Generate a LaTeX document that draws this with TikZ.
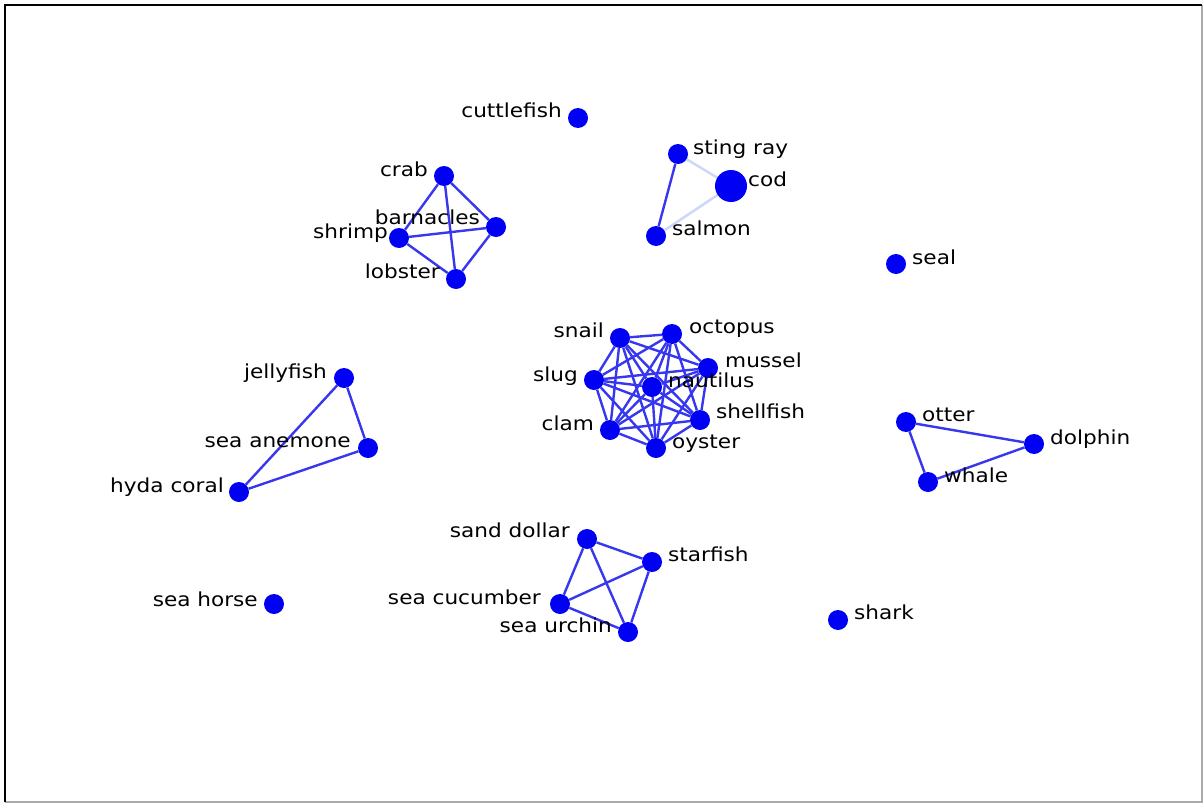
\documentclass[tikz,border=0pt]{standalone}
\usepackage{fontspec}
\setmainfont[FakeStretch=1.12]{DejaVu Sans}
\pgfdeclarelayer{background}
\pgfsetlayers{background,main}
\definecolor{nodeblue}{RGB}{0,0,245}
\definecolor{edgeblue}{RGB}{55,55,240}
\definecolor{faintblue}{RGB}{205,215,250}
\definecolor{framegray}{RGB}{170,170,170}
\begin{document}
\begin{tikzpicture}[x=1pt,y=-1pt,
  vtx/.style={circle,fill=nodeblue,inner sep=0pt,minimum size=20pt},
  bigvtx/.style={circle,fill=nodeblue,inner sep=0pt,minimum size=32pt},
  lblR/.style={anchor=mid west,inner sep=0pt,font=\fontsize{19.3}{21}\selectfont,text=black},
  lblL/.style={anchor=mid east,inner sep=0pt,font=\fontsize{19.3}{21}\selectfont,text=black},
  edge/.style={draw=edgeblue,line width=2.4pt},
  faint/.style={draw=faintblue,line width=2.4pt}]
\useasboundingbox (0,0) rectangle (1203,803);

% nodes
\node[vtx] (cuttlefish) at (578,118) {};
\node[vtx] (stingray) at (678,154) {};
\node[bigvtx] (cod) at (731,186) {};
\node[vtx] (salmon) at (656,236) {};
\node[vtx] (seal) at (896,264) {};
\node[vtx] (crab) at (444,176) {};
\node[vtx] (barnacles) at (496,227) {};
\node[vtx] (shrimp) at (399,238) {};
\node[vtx] (lobster) at (456,279) {};
\node[vtx] (snail) at (620,338) {};
\node[vtx] (octopus) at (672,334) {};
\node[vtx] (mussel) at (708,368) {};
\node[vtx] (slug) at (594,380) {};
\node[vtx] (nautilus) at (652,387) {};
\node[vtx] (shellfish) at (700,420) {};
\node[vtx] (clam) at (610,430) {};
\node[vtx] (oyster) at (656,448) {};
\node[vtx] (jellyfish) at (344,378) {};
\node[vtx] (seaanemone) at (368,448) {};
\node[vtx] (hydacoral) at (239,492) {};
\node[vtx] (otter) at (906,422) {};
\node[vtx] (dolphin) at (1034,444) {};
\node[vtx] (whale) at (928,482) {};
\node[vtx] (sanddollar) at (587,539) {};
\node[vtx] (starfish) at (652,562) {};
\node[vtx] (seacucumber) at (560,604) {};
\node[vtx] (seaurchin) at (628,632) {};
\node[vtx] (seahorse) at (274,604) {};
\node[vtx] (shark) at (838,620) {};

% background, frame and edges
\begin{pgfonlayer}{background}
\fill[white] (0,0) rectangle (1203,803);
\draw[framegray,line width=2pt] (5,801.5) -- (1201.5,801.5) -- (1201.5,5);
\draw[black,line width=2pt] (5,801.5) -- (5,5) -- (1201.5,5);
\draw[faint] (stingray) -- (cod);
\draw[faint] (cod) -- (salmon);
\draw[edge] (stingray) -- (salmon);
\foreach \a/\rest in {crab/{barnacles,shrimp,lobster},barnacles/{shrimp,lobster},shrimp/{lobster}}
  \foreach \b in \rest \draw[edge] (\a) -- (\b);
\foreach \a/\rest in {snail/{octopus,mussel,slug,nautilus,shellfish,clam,oyster},
  octopus/{mussel,slug,nautilus,shellfish,clam,oyster},
  mussel/{slug,nautilus,shellfish,clam,oyster},
  slug/{nautilus,shellfish,clam,oyster},
  nautilus/{shellfish,clam,oyster},
  shellfish/{clam,oyster},
  clam/{oyster}}
  \foreach \b in \rest \draw[edge] (\a) -- (\b);
\draw[edge] (jellyfish) -- (seaanemone) -- (hydacoral) -- (jellyfish);
\draw[edge] (otter) -- (dolphin) -- (whale) -- (otter);
\foreach \a/\rest in {sanddollar/{starfish,seacucumber,seaurchin},starfish/{seacucumber,seaurchin},seacucumber/{seaurchin}}
  \foreach \b in \rest \draw[edge] (\a) -- (\b);
\end{pgfonlayer}

% labels
\node[lblL] (cuttlefish-l) at (562,115) {cuttlefish};
\node[lblR] (stingray-l) at (693,152) {sting ray};
\node[lblR] (cod-l) at (748,184) {cod};
\node[lblR] (salmon-l) at (672,233) {salmon};
\node[lblR] (seal-l) at (912,262) {seal};
\node[lblL] (crab-l) at (428,174) {crab};
\node[lblL] (barnacles-l) at (480,222) {barnacles};
\node[lblL] (shrimp-l) at (388,236) {shrimp};
\node[lblL] (lobster-l) at (440,276) {lobster};
\node[lblL] (snail-l) at (604,335) {snail};
\node[lblR] (octopus-l) at (689,331) {octopus};
\node[lblR] (mussel-l) at (725,365) {mussel};
\node[lblL] (slug-l) at (578,379) {slug};
\node[lblR] (nautilus-l) at (668,385) {nautilus};
\node[lblR] (shellfish-l) at (716,416) {shellfish};
\node[lblL] (clam-l) at (594,428) {clam};
\node[lblR] (oyster-l) at (672,446) {oyster};
\node[lblL] (jellyfish-l) at (327,376) {jellyfish};
\node[lblL] (seaanemone-l) at (351,445) {sea anemone};
\node[lblL] (hydacoral-l) at (224,490) {hyda coral};
\node[lblR] (otter-l) at (922,419) {otter};
\node[lblR] (dolphin-l) at (1050,442) {dolphin};
\node[lblR] (whale-l) at (944,480) {whale};
\node[lblL] (sanddollar-l) at (570,535) {sand dollar};
\node[lblR] (starfish-l) at (668,559) {starfish};
\node[lblL] (seacucumber-l) at (541,602) {sea cucumber};
\node[lblL] (seaurchin-l) at (612,630) {sea urchin};
\node[lblL] (seahorse-l) at (258,604) {sea horse};
\node[lblR] (shark-l) at (854,617) {shark};
\end{tikzpicture}
\end{document}
